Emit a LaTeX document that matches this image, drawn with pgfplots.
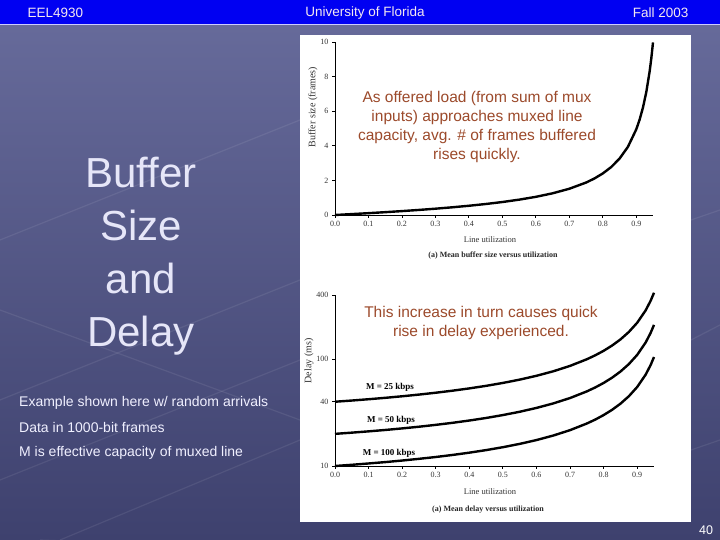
\documentclass[border=0pt]{standalone}
\usepackage{pgfplots}
\pgfplotsset{compat=1.18}
\usepackage{fontspec}
\setmainfont{Liberation Sans}
\newfontfamily\serif{Liberation Serif}
\definecolor{bgtop}{HTML}{686C9C}
\definecolor{bgbot}{HTML}{3E416E}
\definecolor{hdr}{HTML}{0000F2}
\definecolor{anno}{HTML}{9C4A2B}
\definecolor{ttl}{HTML}{E6E6F8}
\definecolor{hdrtxt}{HTML}{F4E8F0}
\pgfplotsset{slide/.style={
  scale only axis, axis x line*=bottom, axis y line*=left,
  axis line style={-, line width=0.8pt},
  tick align=outside, major tick length=3pt,
  tick style={black, line width=0.8pt},
  ticklabel style={font=\serif\fontsize{8}{9}\selectfont, text=black!80},
  /pgf/number format/assume math mode=true,
  enlargelimits=false, clip=false,
  xmin=0, xmax=0.95,
  xtick={0,0.1,0.2,0.3,0.4,0.5,0.6,0.7,0.8,0.9},
  xticklabels={0.0,0.1,0.2,0.3,0.4,0.5,0.6,0.7,0.8,0.9},
}}
\begin{document}
\begin{tikzpicture}[x=1pt,y=1pt]
\useasboundingbox (0,0) rectangle (720,540);
\shade[top color=bgtop,bottom color=bgbot] (0,0) rectangle (720,540);
% faint decorative lines
\begin{scope}[white, opacity=0.08, line width=1.2pt]
\draw (0,60) -- (300,180);
\draw (0,140) -- (300,260);
\draw (60,0) -- (300,100);
\draw (0,300) -- (300,420);
\draw (0,230) -- (300,120);
\draw (40,0) -- (300,-10);
\draw (691,320) -- (720,330);
\draw (691,200) -- (720,215);
\draw (691,90) -- (720,100);
\end{scope}
\fill[hdr] (0,516) rectangle (720,540);
\fill[white!80!blue] (0,514.8) rectangle (720,516);
\node[text=hdrtxt, font=\fontsize{13.5}{15}\selectfont, anchor=west] at (24,527) {EEL4930};
\node[text=hdrtxt, font=\fontsize{13.5}{15}\selectfont] at (365,527) {University of Florida};
\node[text=hdrtxt, font=\fontsize{13.5}{15}\selectfont, anchor=east] at (692,527) {Fall 2003};
% title
\node[text=ttl, font=\fontsize{42}{53}\selectfont, align=center] at (141,284) {Buffer\\Size\\and\\Delay};
% body text
\node[text=white!94!blue, font=\fontsize{14}{16}\selectfont, anchor=west, inner sep=0] at (19,137) {Example shown here w/ random arrivals};
\node[text=white!94!blue, font=\fontsize{14}{16}\selectfont, anchor=west, inner sep=0] at (19,112) {Data in 1000-bit frames};
\node[text=white!94!blue, font=\fontsize{14}{16}\selectfont, anchor=west, inner sep=0] at (19,87) {M is effective capacity of muxed line};
\node[text=white, font=\fontsize{12.5}{14}\selectfont] at (706,10) {40};
% white panel
\fill[white] (300,18) rectangle (691,505);

% top chart
\begin{axis}[slide, at={(335pt,325pt)}, anchor=south west, width=318pt, height=173pt,
  ymin=0, ymax=10, ytick={0,2,4,6,8,10}]
\addplot[black, line width=2.4pt] coordinates {
(0,0) (0.05,0.0513) (0.1,0.1056) (0.15,0.1632) (0.2,0.225) (0.25,0.2917)
(0.3,0.3643) (0.35,0.4442) (0.4,0.5333) (0.45,0.6341) (0.5,0.75) (0.55,0.8861)
(0.6,1.05) (0.65,1.2536) (0.7,1.5167) (0.75,1.875) (0.775,2.1097) (0.8,2.4)
(0.825,2.7696) (0.85,3.2583) (0.875,3.9375) (0.9,4.95) (0.91,5.5106) (0.92,6.21)
(0.93,7.108) (0.94,8.3033) (0.945,9.0635) (0.95,9.975)};
\end{axis}

% bottom chart
\begin{axis}[slide, at={(335pt,74pt)}, anchor=south west, width=319pt, height=171pt,
  ymode=log, ymin=10, ymax=400, ytick={10,40,100,400}, yticklabels={10,40,100,400},
  log basis y=10]
\addplot[black, line width=2.4pt] coordinates {
(0,40) (0.05,41.05) (0.1,42.22) (0.15,43.53) (0.2,45) (0.25,46.67) (0.3,48.57)
(0.35,50.77) (0.4,53.33) (0.45,56.36) (0.5,60) (0.55,64.44) (0.6,70) (0.65,77.14)
(0.7,86.67) (0.75,100) (0.775,108.89) (0.8,120) (0.825,134.29) (0.85,153.33)
(0.875,180) (0.9,220) (0.925,286.67) (0.94,353.33) (0.95,420)};
\addplot[black, line width=2.4pt] coordinates {
(0,20) (0.05,20.53) (0.1,21.11) (0.15,21.76) (0.2,22.5) (0.25,23.33) (0.3,24.29)
(0.35,25.38) (0.4,26.67) (0.45,28.18) (0.5,30) (0.55,32.22) (0.6,35) (0.65,38.57)
(0.7,43.33) (0.75,50) (0.775,54.44) (0.8,60) (0.825,67.14) (0.85,76.67)
(0.875,90) (0.9,110) (0.925,143.33) (0.94,176.67) (0.95,210)};
\addplot[black, line width=2.4pt] coordinates {
(0,10) (0.05,10.26) (0.1,10.56) (0.15,10.88) (0.2,11.25) (0.25,11.67) (0.3,12.14)
(0.35,12.69) (0.4,13.33) (0.45,14.09) (0.5,15) (0.55,16.11) (0.6,17.5) (0.65,19.29)
(0.7,21.67) (0.75,25) (0.775,27.22) (0.8,30) (0.825,33.57) (0.85,38.33)
(0.875,45) (0.9,55) (0.925,71.67) (0.94,88.33) (0.95,105)};
\end{axis}

% chart labels
\node[font=\serif\fontsize{8.5}{10}\selectfont, text=black!80] at (490,300) {Line utilization};
\node[font=\serif\bfseries\fontsize{8}{10}\selectfont, text=black!85] at (493,284) {(a) Mean buffer size versus utilization};
\node[font=\serif\fontsize{10}{11}\selectfont, text=black!80, rotate=90] at (313,433) {Buffer size (frames)};
\node[font=\serif\fontsize{8.5}{10}\selectfont, text=black!80] at (490,48) {Line utilization};
\node[font=\serif\bfseries\fontsize{8}{10}\selectfont, text=black!85] at (488,30) {(a) Mean delay versus utilization};
\node[font=\serif\fontsize{10}{11}\selectfont, text=black!80, rotate=90] at (309,179) {Delay (ms)};
\node[font=\serif\bfseries\fontsize{9}{10}\selectfont] at (390,153) {M = 25 kbps};
\node[font=\serif\bfseries\fontsize{9}{10}\selectfont] at (391,120) {M = 50 kbps};
\node[font=\serif\bfseries\fontsize{9}{10}\selectfont] at (389,87) {M = 100 kbps};
% annotations
\node[text=anno, font=\fontsize{15.5}{19}\selectfont, align=center] at (477,413.5)
  {As offered load (from sum of mux\\inputs) approaches muxed line\\capacity, avg. \# of frames buffered\\rises quickly.};
\node[text=anno, font=\fontsize{15.5}{19}\selectfont, align=center] at (481,217.5)
  {This increase in turn causes quick\\rise in delay experienced.};
\end{tikzpicture}
\end{document}
